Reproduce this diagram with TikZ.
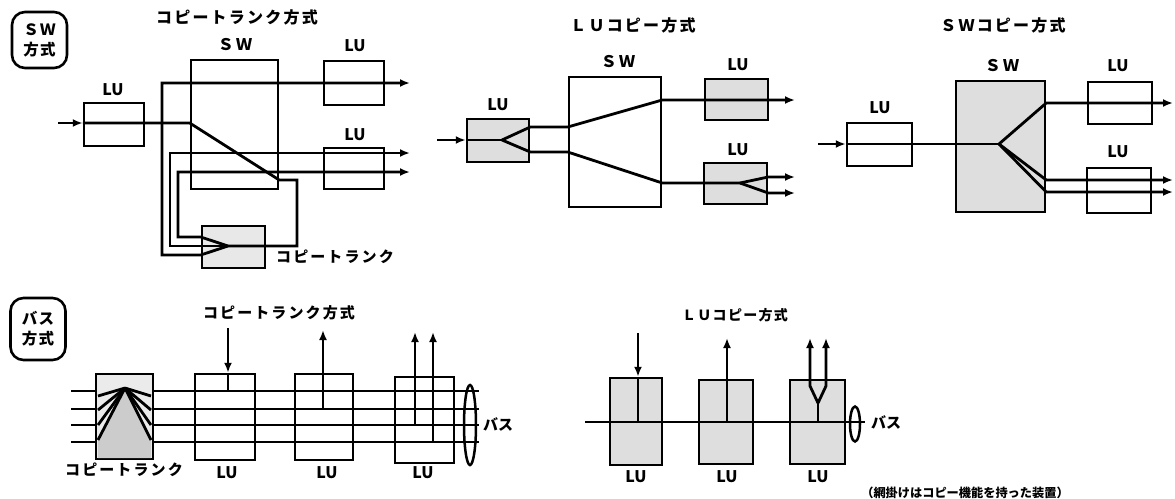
\documentclass[tikz,border=0pt]{standalone}
\usepackage{fontspec}
\usetikzlibrary{arrows.meta,shapes.geometric}
\newfontfamily\jp{Noto Sans CJK JP}
\newcommand\ttlfont{\jp\bfseries\fontsize{16}{16}\selectfont\addfontfeature{LetterSpace=14}}
\newcommand\ttlsmall{\jp\bfseries\fontsize{14}{14}\selectfont\addfontfeature{LetterSpace=9}}
\newcommand\ctfont{\jp\bfseries\fontsize{15}{15}\selectfont\addfontfeature{LetterSpace=14}}
\newcommand\lufont{\jp\bfseries\fontsize{16}{16}\selectfont}
\newcommand\modefont{\jp\bfseries\fontsize{15.5}{20}\selectfont\addfontfeature{LetterSpace=8}}
\newcommand\notefont{\jp\bfseries\fontsize{12.2}{12.2}\selectfont}
\tikzset{
  box/.style={draw, line width=2.5pt, inner sep=0pt, fill=white},
  shd/.style={draw, line width=2.5pt, inner sep=0pt, fill=black!13},
  sig/.style={line width=2.8pt},
  arr/.style={line width=2.8pt, -{Latex[length=10pt,width=8pt]}},
  lbl/.style={font=\lufont, inner sep=0pt},
  ttl/.style={font=\ttlfont, inner sep=0pt},
  ttls/.style={font=\ttlsmall, inner sep=0pt},
  ctl/.style={font=\ctfont, inner sep=0pt},
  mode/.style={draw, line width=2.6pt, rounded corners=13pt, inner sep=0pt, align=center, font=\modefont},
  busring/.style={draw, ellipse, line width=2.5pt, inner sep=0pt},
}
\begin{document}
\begin{tikzpicture}[x=1pt,y=-1pt]
\useasboundingbox (0,0) rectangle (1175,498);

% ---------- mode boxes
\node[mode, minimum width=55pt, minimum height=56pt] (swm) at (39.5,40) {ＳＷ\\方式};
\node[mode, minimum width=55pt, minimum height=62pt] (busm) at (38,329) {バス\\方式};

% ========== Panel 1: SW / copy trunk
\node[ttl] (t1) at (237,17) {コピートランク方式};
\node[box, minimum width=60pt, minimum height=43pt] (lu1a) at (114,124.5) {};
\node[lbl] (lu1al) at (113,90) {LU};
\node[box, minimum width=87pt, minimum height=129pt] (sw1) at (234.5,124.5) {};
\node[ttl] (sw1l) at (235,45) {ＳＷ};
\node[box, minimum width=60pt, minimum height=44pt] (lu1b) at (354,83) {};
\node[lbl] (lu1bl) at (355,46) {LU};
\node[box, minimum width=60pt, minimum height=41pt] (lu1c) at (354,168.5) {};
\node[lbl] (lu1cl) at (355,135) {LU};
\node[shd, fill=black!9, minimum width=63pt, minimum height=42pt] (ct1) at (233.5,247) {};
\node[ctl] (ct1l) at (335,257) {コピートランク};

\coordinate (in1) at (58,123);
\coordinate (ap1) at (228,246);
\coordinate (o1a) at (410,83);
\coordinate (o1b) at (410,153);
\coordinate (o1c) at (410,172);
\draw[arr] (in1) -- (lu1a.west |- in1);
\draw[sig] (lu1a.west |- in1) -- (sw1.west |- in1) -- (sw1.east |- 0,180) -- (297,180) -- (297,246) -- (ap1);
\draw[arr] (ap1) -- (ct1.west |- 0,237) -- (178,237) -- (178,172) -- (o1c);
\draw[arr] (ap1) -- (170,246) -- (170,153) -- (o1b);
\draw[arr] (ap1) -- (ct1.west |- 0,255) -- (162,255) -- (162,83) -- (o1a);

% ========== Panel 2: LU copy
\node[ttl] (t2) at (633,25) {ＬＵコピー方式};
\node[shd, minimum width=62pt, minimum height=43pt] (lu2a) at (498,140.5) {};
\node[lbl] (lu2al) at (498,105) {LU};
\node[box, minimum width=92pt, minimum height=130pt] (sw2) at (615,142) {};
\node[ttl] (sw2l) at (618,62) {ＳＷ};
\node[shd, minimum width=63pt, minimum height=41pt] (lu2b) at (736.5,99.5) {};
\node[lbl] (lu2bl) at (738,65) {LU};
\node[shd, minimum width=63pt, minimum height=41pt] (lu2c) at (735.5,183.5) {};
\node[lbl] (lu2cl) at (738,150) {LU};

\coordinate (in2) at (437,140);
\coordinate (ap2) at (502,140);
\coordinate (ap3) at (740,183);
\draw[arr] (in2) -- (lu2a.west |- in2);
\draw[sig] (lu2a.west |- in2) -- (ap2);
\draw[arr] (ap2) -- (lu2a.east |- 0,127) -- (sw2.west |- 0,127) -- (sw2.east |- 0,100) -- (795,100);
\draw[sig] (ap2) -- (lu2a.east |- 0,152) -- (sw2.west |- 0,152) -- (sw2.east |- 0,183) -- (ap3);
\draw[arr] (ap3) -- (lu2c.east |- 0,177) -- (795,177);
\draw[arr] (ap3) -- (lu2c.east |- 0,193) -- (795,193);

% ========== Panel 3: SW copy
\node[ttl] (t3) at (1003,25) {ＳＷコピー方式};
\node[box, minimum width=65pt, minimum height=43pt] (lu3a) at (879.5,144.5) {};
\node[lbl] (lu3al) at (880,108) {LU};
\node[shd, minimum width=89pt, minimum height=131pt] (sw3) at (1000.5,146.5) {};
\node[ttl] (sw3l) at (1002,66) {ＳＷ};
\node[box, minimum width=64pt, minimum height=42pt] (lu3b) at (1120,103) {};
\node[lbl] (lu3bl) at (1118,66) {LU};
\node[box, minimum width=64pt, minimum height=45pt] (lu3c) at (1119,190.5) {};
\node[lbl] (lu3cl) at (1118,152) {LU};

\coordinate (in3) at (818,144);
\coordinate (ap4) at (999,144);
\draw[arr] (in3) -- (lu3a.west |- in3);
\draw[sig] (lu3a.west |- in3) -- (ap4);
\draw[arr] (ap4) -- (sw3.east |- 0,103) -- (1173,103);
\draw[arr] (ap4) -- (sw3.east |- 0,180) -- (1173,180);
\draw[arr] (ap4) -- (sw3.east |- 0,192) -- (1173,192);

% ========== Panel 4: bus / copy trunk
\node[ttl, font=\ttlfont\fontsize{15}{15}\selectfont] (t4) at (279,313) {コピートランク方式};
\node[shd, fill=black!8, minimum width=57pt, minimum height=85pt] (ct2) at (124.5,416.5) {};
\fill[black!20] (125,388) -- (98,440) -- (98,458) -- (151,458) -- (151,440) -- cycle;
\node[ctl] (ct2l) at (124,470) {コピートランク};
\node[box, minimum width=60pt, minimum height=86pt] (lu4a) at (225,417) {};
\node[lbl] (lu4al) at (227,473) {LU};
\node[box, minimum width=58pt, minimum height=86pt] (lu4b) at (324,417) {};
\node[lbl] (lu4bl) at (327,473) {LU};
\node[box, minimum width=59pt, minimum height=86pt] (lu4c) at (424.5,420) {};
\node[lbl] (lu4cl) at (423,473) {LU};
\node[busring, minimum width=12pt, minimum height=80pt] (ring1) at (470,425) {};
\node[lbl, font=\jp\bfseries\fontsize{15}{15}\selectfont] (bus1l) at (498,424) {バス};

\coordinate (ap6) at (125,388);
\foreach \yy/\ey in {391/396,409/410,425/425,442/440}{
  \draw[sig] (71,\yy) -- (ct2.west |- 0,\yy);
  \draw[sig] (ct2.east |- 0,\yy) -- (479,\yy);
  \draw[sig] (ap6) -- (98,\ey);
  \draw[sig] (ap6) -- (151,\ey);
}
\coordinate (in4) at (228,328);
\draw[arr] (in4) -- (in4 |- lu4a.north);
\draw[sig] (in4 |- lu4a.north) -- (228,391);
\draw[arr] (323,409) -- (323,330);
\draw[arr] (415,425) -- (415,332);
\draw[arr] (433,442) -- (433,332);

% ========== Panel 5: bus / LU copy
\node[ttls] (t5) at (735,315) {ＬＵコピー方式};
\node[shd, minimum width=52pt, minimum height=87pt] (lu5a) at (636,421.5) {};
\node[lbl] (lu5al) at (636,477) {LU};
\node[shd, minimum width=54pt, minimum height=84pt] (lu5b) at (726,422) {};
\node[lbl] (lu5bl) at (727,477) {LU};
\node[shd, minimum width=55pt, minimum height=84pt] (lu5c) at (817.5,422) {};
\node[lbl] (lu5cl) at (818,477) {LU};
\node[busring, minimum width=10pt, minimum height=35pt] (ring2) at (855,424) {};
\node[lbl, font=\jp\bfseries\fontsize{15}{15}\selectfont] (bus2l) at (886,422) {バス};

\draw[sig] (585,422) -- (865,422);
\coordinate (in5) at (638,333);
\draw[arr] (in5) -- (in5 |- lu5a.north);
\draw[sig] (in5 |- lu5a.north) -- (638,422);
\draw[arr] (727,422) -- (727,338);
\coordinate (ap5) at (818,403);
\draw[sig] (818,422) -- (ap5);
\draw[arr] (ap5) -- (810,386) -- (810,338);
\draw[arr] (ap5) -- (826,386) -- (826,338);

\node[font=\notefont, inner sep=0pt] (note) at (965,493) {（網掛けはコピー機能を持った装置）};
\end{tikzpicture}
\end{document}
